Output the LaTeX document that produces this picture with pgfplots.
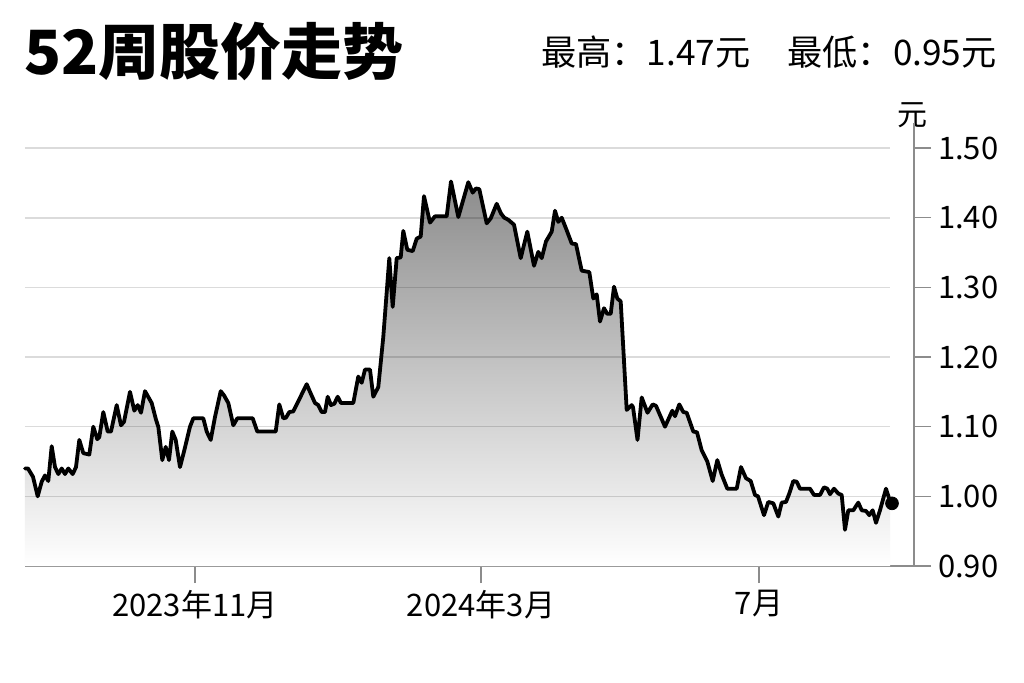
\documentclass[border=0pt]{standalone}
\usepackage{fontspec}
\setmainfont{Noto Sans CJK SC}
\usepackage{pgfplots}
\usepackage{pgfplotstable}
\pgfplotsset{compat=1.18}

% price path: x in chart pixels, y in yuan
\pgfplotstableread{
x y
25 1.040
28 1.040
33 1.028
37.7 1.000
41.7 1.021
45 1.030
48.3 1.022
51.7 1.072
55 1.042
58.3 1.032
61.7 1.040
65 1.032
68.3 1.040
72.7 1.032
76 1.042
79.3 1.081
83.3 1.062
89.3 1.060
93.3 1.100
97.3 1.082
99.3 1.085
103.3 1.121
107.7 1.093
111 1.093
116.7 1.131
121 1.102
124 1.107
130 1.150
134.3 1.123
137.7 1.131
141 1.120
145 1.151
151.7 1.134
156 1.110
158.3 1.100
162.3 1.052
165.7 1.071
169 1.052
172.3 1.093
175.7 1.081
180 1.042
184.3 1.066
190 1.100
193.3 1.112
203.3 1.112
206.7 1.093
210.7 1.081
215 1.114
220.7 1.151
224 1.145
228.3 1.134
233.3 1.102
237.3 1.112
252.7 1.112
257.3 1.093
275.7 1.093
279.3 1.132
283.3 1.112
286 1.113
289.3 1.121
293.3 1.122
306.7 1.161
310 1.150
315 1.134
318.3 1.131
321.7 1.121
325 1.121
327.7 1.143
331 1.131
334.3 1.133
337.7 1.143
341 1.134
353.3 1.134
358.3 1.172
361.7 1.163
365 1.182
370 1.182
373.3 1.143
378.3 1.157
383.3 1.229
389.3 1.342
392.7 1.272
396.7 1.342
400.7 1.343
403.3 1.381
407.3 1.354
412.7 1.352
416.7 1.370
420.7 1.373
424 1.431
430 1.393
435 1.402
446.7 1.402
451 1.452
458.3 1.401
468.3 1.451
472.7 1.436
476 1.442
479.3 1.441
486.7 1.392
490.7 1.399
496.7 1.420
501 1.406
504.3 1.400
508.3 1.397
514 1.390
520.7 1.342
527.3 1.380
534 1.331
538.3 1.351
541.7 1.342
546 1.366
551.7 1.380
555 1.410
558.3 1.394
561.7 1.400
566.7 1.382
571.7 1.363
576 1.362
581.7 1.324
589.3 1.322
593.3 1.284
596.7 1.290
600 1.251
604 1.270
607.3 1.262
610.7 1.262
614 1.301
617.3 1.284
620.7 1.280
626.7 1.124
631.7 1.131
633 1.128
637.5 1.081
641.7 1.142
647.5 1.120
652.7 1.132
656 1.130
665 1.100
672.3 1.123
675 1.115
679.3 1.132
683.3 1.121
686.7 1.120
693.3 1.093
697 1.092
701.7 1.066
707.3 1.050
712.7 1.022
717.3 1.052
721.7 1.031
727.3 1.011
736.7 1.011
741 1.042
746 1.026
750.7 1.022
755 1.002
758 1.000
764 0.973
768.3 0.992
773.3 0.990
778.3 0.971
781.7 0.991
786 0.992
789.3 1.004
793.3 1.022
796.7 1.021
800 1.011
810 1.011
814 1.002
820 1.002
824 1.013
827.3 1.011
830 1.003
834 1.011
838.3 1.004
841.7 1.002
845 0.952
848.3 0.980
853.3 0.980
858.3 0.991
861.7 0.980
866 0.979
869.3 0.973
872.7 0.980
876 0.962
880 0.980
886 1.011
890 0.993
}\pricedata

\begin{document}
\begin{tikzpicture}
\path[use as bounding box, fill=white] (0,0) rectangle (512pt,341pt);

\node[anchor=west, inner sep=0pt, font=\fontsize{30.5}{30.5}\selectfont\bfseries] at (12pt,315pt) {52周股价走势};
\node[anchor=east, inner sep=0pt, font=\fontsize{17.6}{17.6}\selectfont] at (498.5pt,315pt) {最高：1.47元\hspace{1.05em}最低：0.95元};
\node[inner sep=0pt, font=\fontsize{15}{15}\selectfont] at (456pt,283.5pt) {元};

\begin{axis}[
  at={(12.5pt,58pt)}, anchor=south west,
  scale only axis, width=444.5pt, height=221.5pt,
  xmin=25, xmax=914, ymin=0.9, ymax=1.536,
  axis x line*=bottom, axis y line*=right,
  x axis line style={-, black!45, line width=0.7pt},
  y axis line style={-, black!45, line width=0.7pt},
  tick align=outside, major tick length=8.5pt,
  tick style={black!45, line width=0.6pt},
  xtick={195,481,759},
  xticklabels={2023年11月,2024年3月,7月},
  ytick={0.9,1.0,1.1,1.2,1.3,1.4,1.5},
  yticklabel style={/pgf/number format/fixed, /pgf/number format/fixed zerofill,
    /pgf/number format/precision=2},
  /pgf/number format/assume math mode=true,
  ticklabel style={font=\fontsize{15.5}{15.5}\selectfont},
  clip=false,
]
\addplot[draw=none, top color=black!45, middle color=black!16, bottom color=white]
  table {\pricedata} \closedcycle;
\pgfplotsinvokeforeach{1.0,1.1,1.2,1.3,1.4,1.5}{
  \draw[black, opacity=0.14, line width=0.8pt] (axis cs:25,#1) -- (axis cs:890,#1);
}
\addplot[black, line width=1.9pt, line join=round, line cap=round] table {\pricedata};
\addplot[only marks, mark=*, mark size=3.2pt, black] coordinates {(892,0.99)};
\end{axis}
\end{tikzpicture}
\end{document}
